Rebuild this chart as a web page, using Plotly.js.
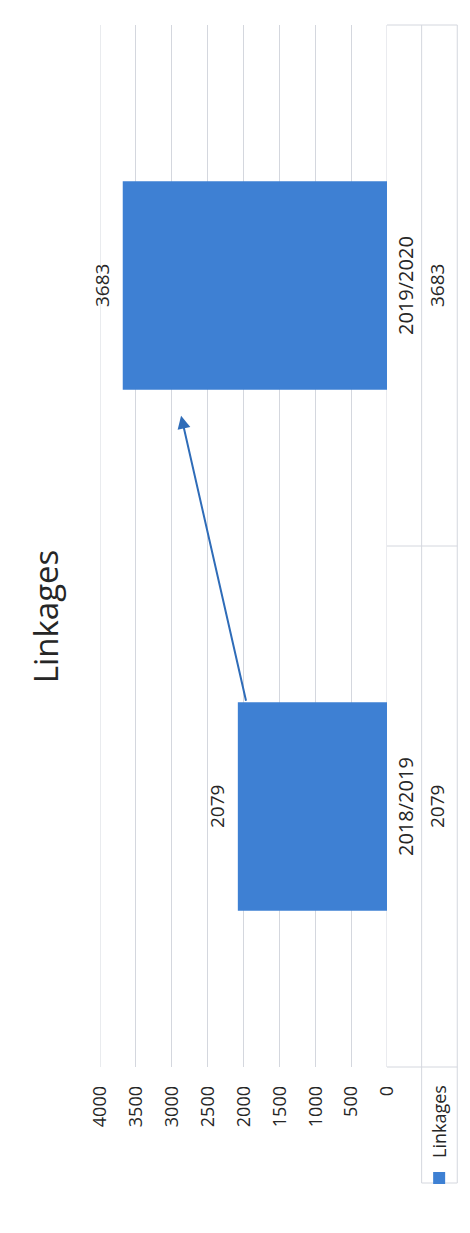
<!DOCTYPE html>
<html>
<head>
<meta charset="utf-8">
<script src="https://cdn.plot.ly/plotly-3.0.1.min.js"></script>
<style>
  html, body { margin: 0; padding: 0; width: 470px; height: 1233px; overflow: hidden; background: #ffffff; }
  #wrap { position: absolute; left: 0; top: 0; width: 1233px; height: 470px;
          transform-origin: 0 0; transform: translate(0px, 1233px) rotate(-90deg); }
</style>
</head>
<body>
<div id="wrap"><div id="chart"></div></div>
<script>
// ---- data ----
const categories = ['2018/2019', '2019/2020'];
const linkages = [2079, 3683];
const seriesName = 'Linkages';
const yTickValues = [0, 500, 1000, 1500, 2000, 2500, 3000, 3500, 4000];
// trend arrow drawn on the chart (tail -> head, in category index / value units)
const arrowTail = [0.20, 1960];
const arrowHead = [0.75, 2870];

const FONT = 'Open Sans, Lato, sans-serif';
const TXT = '#262626';
const GRID = '#d4d7de';
const BAR = '#3e80d3';

const trace = {
  type: 'bar',
  x: categories,
  y: linkages,
  name: seriesName,
  marker: { color: BAR },
  showlegend: true
};

const annotations = [];
categories.forEach((c, i) => {
  // value labels above bars
  annotations.push({
    x: c, y: linkages[i], xref: 'x', yref: 'y',
    text: String(linkages[i]), showarrow: false,
    yanchor: 'middle', yshift: 21,
    font: { family: FONT, size: 19, color: TXT }
  });
  // data table: category row
  annotations.push({
    x: c, y: 0, xref: 'x', yref: 'paper',
    text: c, showarrow: false, yanchor: 'middle', yshift: -18,
    font: { family: FONT, size: 20, color: TXT }
  });
  // data table: value row
  annotations.push({
    x: c, y: 0, xref: 'x', yref: 'paper',
    text: String(linkages[i]), showarrow: false, yanchor: 'middle', yshift: -50,
    font: { family: FONT, size: 19, color: TXT }
  });
});
// arrow
annotations.push({
  x: arrowHead[0], y: arrowHead[1], xref: 'x', yref: 'y',
  ax: arrowTail[0], ay: arrowTail[1], axref: 'x', ayref: 'y',
  text: '', showarrow: true, arrowhead: 2, arrowsize: 1.3,
  arrowwidth: 2, arrowcolor: '#2f6cb8'
});

// table lines (paper coords; plot area is 1042 x 290 px)
const r1 = -35 / 290, r2 = -71 / 290, legL = -116 / 1042;
const line = (x0, y0, x1, y1, yref) => ({ type: 'line', xref: 'paper', yref: yref || 'paper',
  x0, y0, x1, y1, layer: 'below', line: { color: GRID, width: 1 } });
const shapes = [
  line(0, yTickValues[yTickValues.length - 1], 1, yTickValues[yTickValues.length - 1], 'y'),
  line(0, 0, 1, 0, 'y'),
  line(0, r1, 1, r1),
  line(legL, r1, 0, r1),
  line(legL, r2, 1, r2),
  line(legL, r1, legL, r2),
  line(0, 0, 0, r2),
  line(0.5, 0, 0.5, r2),
  line(1, 0, 1, r2)
];

const layout = {
  width: 1233, height: 470,
  margin: { l: 166, r: 25, t: 100, b: 80 },
  paper_bgcolor: '#ffffff', plot_bgcolor: '#ffffff',
  title: { text: 'Linkages', x: 0.5, xref: 'container', xanchor: 'center',
           y: 1 - 46 / 470, yref: 'container', yanchor: 'middle',
           font: { family: FONT, size: 33, color: TXT } },
  bargap: 0.6,
  xaxis: { type: 'category', showticklabels: false, showgrid: false,
           zeroline: false, showline: false, ticks: '' },
  yaxis: { range: [0, 4000], tickvals: yTickValues, showgrid: true, gridcolor: GRID,
           gridwidth: 1, zeroline: false, showline: false, ticks: '',
           ticklabelstandoff: 18,
           tickfont: { family: FONT, size: 18, color: TXT } },
  showlegend: true,
  legend: { x: -131 / 1042, xanchor: 'left', y: -53 / 290, yanchor: 'middle',
            xref: 'paper', yref: 'paper', bgcolor: 'rgba(0,0,0,0)',
            font: { family: FONT, size: 18, color: TXT }, itemwidth: 30 },
  annotations, shapes
};

Plotly.newPlot('chart', [trace], layout, { displayModeBar: false, staticPlot: true });
</script>
</body>
</html>
